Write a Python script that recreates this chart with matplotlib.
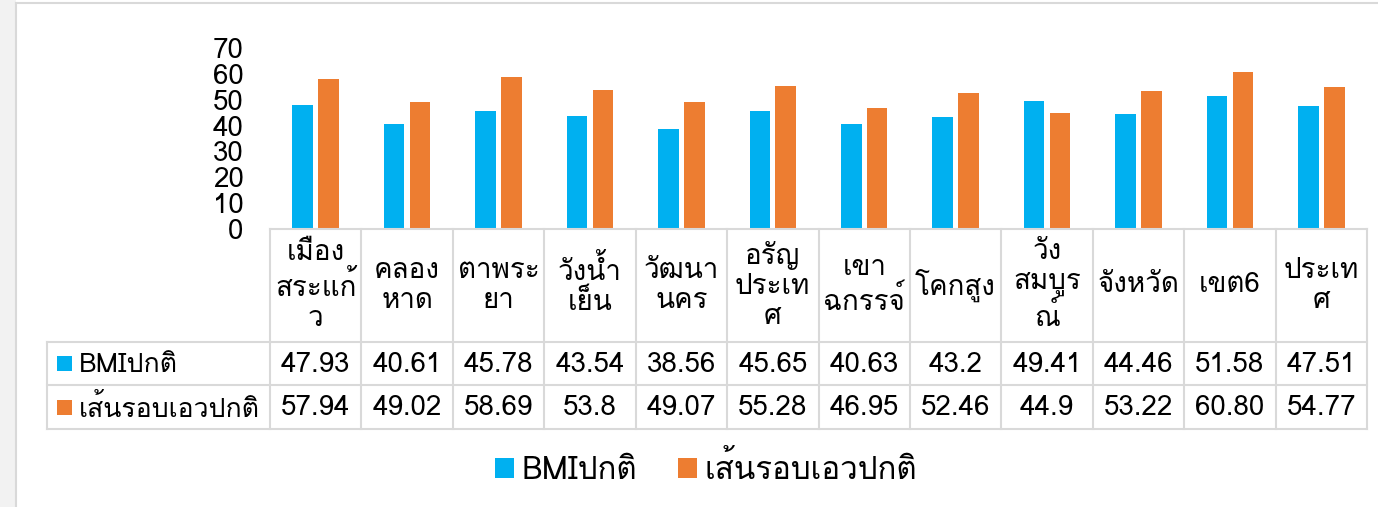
import matplotlib
matplotlib.use('Agg')
import matplotlib.pyplot as plt
from matplotlib import font_manager
from matplotlib.ft2font import FT2Font
from matplotlib.lines import Line2D
from matplotlib.patches import Patch, Rectangle
import numpy as np

# ── Data ────────────────────────────────────────────────────────────────────────
DISTRICTS = ['เมือง\nสระแก้\nว', 'คลอง\nหาด', 'ตาพระ\nยา', 'วังน้ำ\nเย็น', 'วัฒนา\nนคร',
             'อรัญ\nประเท\nศ', 'เขา\nฉกรรจ์', 'โคกสูง', 'วัง\nสมบูร\nณ์', 'จังหวัด',
             'เขต6', 'ประเท\nศ']
SERIES = ['BMIปกติ', 'เส้นรอบเอวปกติ']
BMI_TEXT = ['47.93', '40.61', '45.78', '43.54', '38.56', '45.65',
            '40.63', '43.2', '49.41', '44.46', '51.58', '47.51']
WAIST_TEXT = ['57.94', '49.02', '58.69', '53.8', '49.07', '55.28',
              '46.95', '52.46', '44.9', '53.22', '60.80', '54.77']
bmi = [float(s) for s in BMI_TEXT]
waist = [float(s) for s in WAIST_TEXT]
Y_TICKS = [0, 10, 20, 30, 40, 50, 60, 70]

# ── Style ───────────────────────────────────────────────────────────────────────
C_BLUE = '#00B0F0'
C_ORANGE = '#ED7D31'
C_GRID = '#D9D9D9'
FS = 20          # table + axis text
FS_ROW = 19.2    # row header labels
FS_LEG = 22.5    # legend text


def find_thai_font():
    for fe in font_manager.fontManager.ttflist:
        try:
            if 0x0E01 in FT2Font(fe.fname).get_charmap():
                return fe.name
        except Exception:
            continue
    return None


thai = find_thai_font()
plt.rcParams['font.family'] = [thai, 'DejaVu Sans'] if thai else ['DejaVu Sans']
plt.rcParams['font.size'] = FS

W, H = 1378, 507


def box(l, t, r, b):
    return [l / W, 1 - b / H, (r - l) / W, (b - t) / H]


fig = plt.figure(figsize=(W / 100, H / 100), dpi=100)
fig.patch.set_facecolor('white')

# slide frame
fig.add_artist(Rectangle((0, 0), 16 / W, 1, transform=fig.transFigure,
                         facecolor='#F2F2F2', edgecolor='none'))
fig.add_artist(Line2D([16 / W, 16 / W], [0, 1 - 3 / H], transform=fig.transFigure,
                      color=C_GRID, lw=1.5))
fig.add_artist(Line2D([16 / W, 1], [1 - 3 / H, 1 - 3 / H], transform=fig.transFigure,
                      color=C_GRID, lw=1.5))

# ── Bars ────────────────────────────────────────────────────────────────────────
TAB_L, COL_L, TAB_R = 47, 270, 1367
COL_W = (TAB_R - COL_L) / len(DISTRICTS)

ax = fig.add_axes(box(COL_L, 48, TAB_R, 229))
x = np.arange(len(DISTRICTS))
bw, off = 0.225, 0.142
ax.bar(x - off, bmi, bw, color=C_BLUE, zorder=3)
ax.bar(x + off, waist, bw, color=C_ORANGE, zorder=3)
ax.set_xlim(-0.5, len(DISTRICTS) - 0.5)
ax.set_ylim(0, 70)
ax.set_yticks(Y_TICKS)
ax.set_xticks([])
ax.tick_params(axis='y', length=0, pad=19, labelsize=FS)
for s in ax.spines.values():
    s.set_visible(False)

# ── Data table ──────────────────────────────────────────────────────────────────
tab = fig.add_axes(box(TAB_L, 229, TAB_R, 429))
left = -0.5 - (COL_L - TAB_L) / COL_W
right = len(DISTRICTS) - 0.5
tab.set_xlim(left, right)
tab.set_ylim(200, 0)
tab.axis('off')
r1, r2 = 113, 156
line_kw = dict(color=C_GRID, lw=1.5, clip_on=False, solid_capstyle='projecting')

tab.plot([-0.5, right], [0, 0], **line_kw)
for yy in (r1, r2, 200):
    tab.plot([left, right], [yy, yy], **line_kw)
tab.plot([left, left], [r1, 200], **line_kw)
for i in range(len(DISTRICTS) + 1):
    tab.plot([i - 0.5, i - 0.5], [0, 200], **line_kw)

for i, name in enumerate(DISTRICTS):
    tab.text(i, r1 / 2, name, ha='center', va='center', linespacing=1.2)
    tab.text(i, (r1 + r2) / 2 + 1, BMI_TEXT[i], ha='center', va='center')
    tab.text(i, (r2 + 200) / 2 + 1, WAIST_TEXT[i], ha='center', va='center')

for yc, label, c in (((r1 + r2) / 2, SERIES[0], C_BLUE),
                     ((r2 + 200) / 2, SERIES[1], C_ORANGE)):
    tab.add_patch(Rectangle((left + 10 / COL_W, yc - 7.5), 15 / COL_W, 15,
                            facecolor=c, edgecolor='none', clip_on=False))
    tab.text(left + 32 / COL_W, yc + 1, label, ha='left', va='center', fontsize=FS_ROW)

# ── Legend ──────────────────────────────────────────────────────────────────────
handles = [Patch(facecolor=C_BLUE, label=SERIES[0]),
           Patch(facecolor=C_ORANGE, label=SERIES[1])]
fig.legend(handles=handles, loc='center', bbox_to_anchor=(706 / W, 1 - 469 / H),
           ncol=2, frameon=False, fontsize=FS_LEG, handlelength=0.6, handleheight=0.6,
           handletextpad=0.25, columnspacing=1.3)

fig.savefig('out.png', dpi=100)
